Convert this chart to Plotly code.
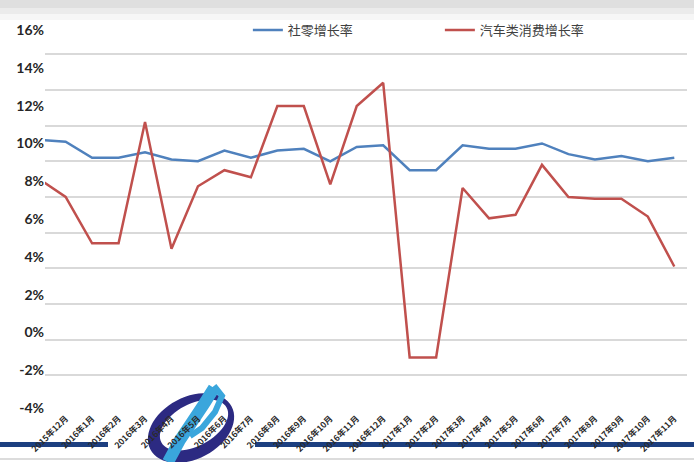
import numpy as np
import plotly.graph_objects as go

months = ["2015年11月", "2015年12月",
          "2016年1月", "2016年2月", "2016年3月", "2016年4月", "2016年5月", "2016年6月",
          "2016年7月", "2016年8月", "2016年9月", "2016年10月", "2016年11月", "2016年12月",
          "2017年1月", "2017年2月", "2017年3月", "2017年4月", "2017年5月", "2017年6月",
          "2017年7月", "2017年8月", "2017年9月", "2017年10月", "2017年11月"]
retail_growth = [11.2, 11.1, 10.2, 10.2, 10.5, 10.1, 10.0, 10.6, 10.2, 10.6, 10.7, 10.0,
                 10.8, 10.9, 9.5, 9.5, 10.9, 10.7, 10.7, 11.0, 10.4, 10.1, 10.3, 10.0, 10.2]
auto_growth = [9.0, 8.0, 5.4, 5.4, 12.2, 5.1, 8.6, 9.5, 9.1, 13.1, 13.1, 8.7,
               13.1, 14.4, -1.0, -1.0, 8.5, 6.8, 7.0, 9.8, 8.0, 7.9, 7.9, 6.9, 4.1]
y_ticks = [-4, -2, 0, 2, 4, 6, 8, 10, 12, 14, 16]
y_tick_text = [f"{v}%" for v in y_ticks]

W, H = 694, 462
L, R, T, B = 45, 7, 30, 51
PW, PH = W - L - R, H - T - B


def P(x, y):
    return (x - L) / PW, (H - B - y) / PH


def path_from(points, close=True):
    s = ""
    for i, (x, y) in enumerate(points):
        px, py = P(x, y)
        s += ("M" if i == 0 else "L") + f"{px:.5f},{py:.5f} "
    return s + ("Z " if close else "")


def ellipse_pts(cx, cy, a, b, rot_deg, reverse=False, n=60):
    t = np.linspace(0, 2 * np.pi, n, endpoint=False)
    if reverse:
        t = t[::-1]
    r = np.deg2rad(rot_deg)
    xs = cx + a * np.cos(t) * np.cos(r) - b * np.sin(t) * np.sin(r)
    ys = cy + a * np.cos(t) * np.sin(r) + b * np.sin(t) * np.cos(r)
    return list(zip(xs, ys))


fig = go.Figure()
# invisible anchor so that the labelled percentage axis is drawn
fig.add_trace(go.Scatter(x=[months[0]], y=[y_ticks[0]], mode="markers", showlegend=False,
                         hoverinfo="skip", marker=dict(opacity=0), yaxis="y"))
fig.add_trace(go.Scatter(x=months, y=retail_growth, mode="lines", name="社零增长率",
                         line=dict(color="#4f81bd", width=2.5), yaxis="y2"))
fig.add_trace(go.Scatter(x=months, y=auto_growth, mode="lines", name="汽车类消费增长率",
                         line=dict(color="#c0504d", width=2.5), yaxis="y2"))

shapes = []
for h, op in [(20, 0.08), (14, 0.10), (8, 0.12)]:
    x0, y0 = P(0, h)
    x1, y1 = P(W, 0)
    shapes.append(dict(type="rect", xref="paper", yref="paper", x0=x0, y0=y0, x1=x1, y1=y1,
                       fillcolor=f"rgba(140,140,140,{op})", line=dict(width=0), layer="below"))
for xa, xb in [(0, 108), (255, W)]:
    x0, y0 = P(xa, 447)
    x1, y1 = P(xb, 442)
    shapes.append(dict(type="rect", xref="paper", yref="paper", x0=x0, y0=y0, x1=x1, y1=y1,
                       fillcolor="#1c3f80", line=dict(width=0), layer="below"))
x0, y0 = P(0, 459)
x1, y1 = P(W, 459)
shapes.append(dict(type="line", xref="paper", yref="paper", x0=x0, y0=y0, x1=x1, y1=y1,
                   line=dict(color="#d0d0d0", width=1.5), layer="below"))
ring = path_from(ellipse_pts(191, 428, 46, 31, -28)) + path_from(ellipse_pts(194, 425, 37, 21, -28, reverse=True))
shapes.append(dict(type="path", xref="paper", yref="paper", path=ring,
                   fillcolor="#2c2a82", line=dict(width=0), layer="below"))
rib = [(214, 388), (204, 404), (192, 422), (180, 440), (168, 462)]
shapes.append(dict(type="path", xref="paper", yref="paper", path=path_from(rib, close=False),
                   line=dict(color="#3aa6dc", width=12), layer="below"))
loop = [(214, 386), (222, 396), (215, 412), (202, 428), (190, 436)]
shapes.append(dict(type="path", xref="paper", yref="paper", path=path_from(loop, close=False),
                   line=dict(color="#3aa6dc", width=6), layer="below"))

fig.update_layout(
    template="none",
    width=W, height=H,
    margin=dict(l=L, r=R, t=T, b=B, autoexpand=False),
    paper_bgcolor="white",
    plot_bgcolor="rgba(0,0,0,0)",
    font=dict(family="Noto Sans CJK SC, Lato, sans-serif", color="#404040"),
    showlegend=True,
    legend=dict(orientation="h", x=0.316, xanchor="left", y=1.0, yanchor="middle",
                font=dict(size=13, color="#404040", family="Noto Sans CJK SC"),
                bgcolor="rgba(0,0,0,0)", entrywidth=147, itemwidth=30),
    xaxis=dict(type="category", categoryorder="array", categoryarray=months,
               range=[0.22, 24.48], tickangle=-45, showgrid=False,
               showline=False, zeroline=False, automargin=False,
               tickfont=dict(size=8.5, family="Noto Sans CJK SC", color="#2a2a2a", weight="bold")),
    yaxis=dict(range=[-4.159, 16], tickvals=y_ticks, ticktext=y_tick_text, showgrid=False,
               zeroline=False, showline=False, automargin=False,
               tickfont=dict(size=14, family="Lato", color="#262626", weight="bold")),
    yaxis2=dict(range=[-4, 17.36], overlaying="y", side="left", tick0=-4, dtick=2,
                showgrid=True, gridcolor="#d9d9d9", gridwidth=1.5, showticklabels=False,
                zeroline=False, showline=False, automargin=False),
    shapes=shapes,
)

fig.write_html("out.html", config={"displayModeBar": False},
               post_script="document.body.style.margin='0';")
